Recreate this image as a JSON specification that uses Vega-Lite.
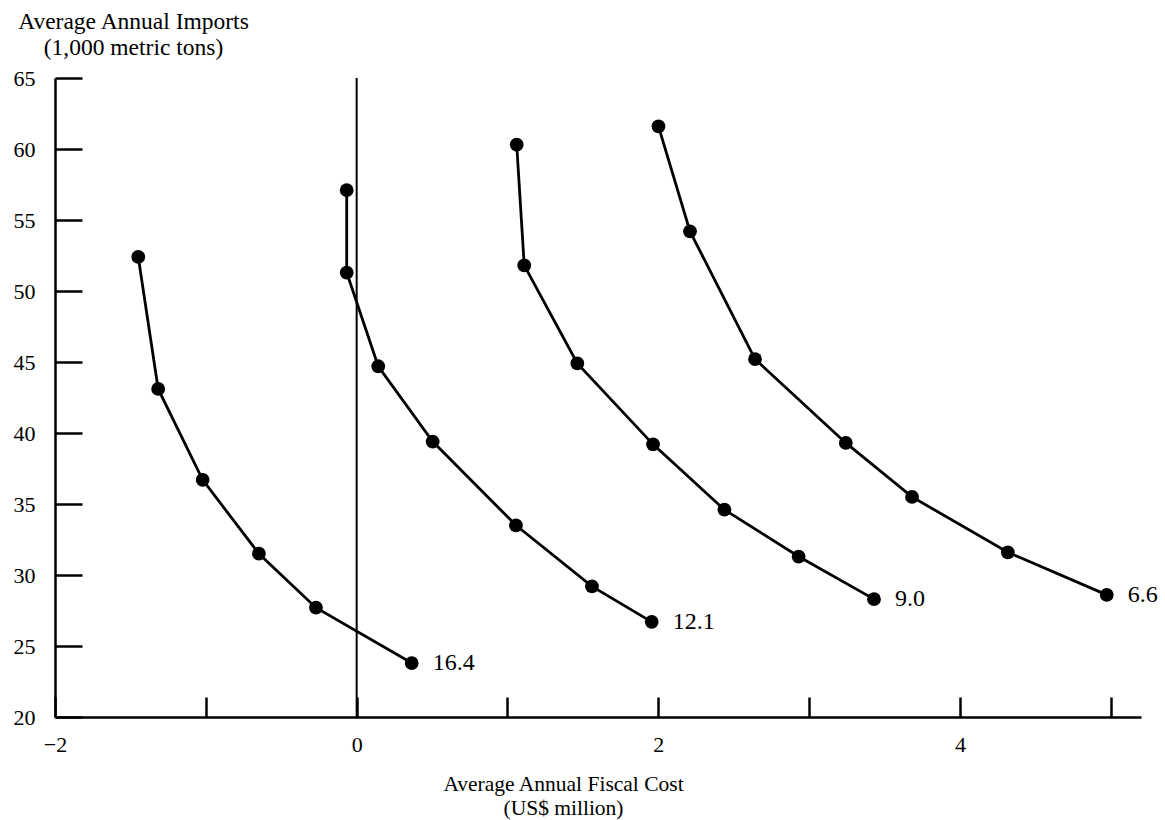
{
  "$schema": "https://vega.github.io/schema/vega-lite/v6.json",
  "width": 1086,
  "height": 639,
  "autosize": "none",
  "padding": {"left": 55, "top": 78, "right": 24, "bottom": 103},
  "background": "white",
  "config": {
    "view": {"stroke": null},
    "font": "Liberation Serif",
    "axis": {
      "domainColor": "black",
      "domainWidth": 2.5,
      "tickColor": "black",
      "tickWidth": 2.5,
      "grid": false,
      "labelFont": "Liberation Serif",
      "labelFontSize": 22,
      "labelColor": "black",
      "titleFont": "Liberation Serif",
      "titleFontSize": 22,
      "titleFontWeight": "normal",
      "titleColor": "black"
    }
  },
  "datasets": {
    "curves": [
      {"curve": "16.4", "i": 1, "cost": -1.448, "imports": 52.4, "label": null},
      {"curve": "16.4", "i": 2, "cost": -1.316, "imports": 43.1, "label": null},
      {"curve": "16.4", "i": 3, "cost": -1.021, "imports": 36.7, "label": null},
      {"curve": "16.4", "i": 4, "cost": -0.648, "imports": 31.5, "label": null},
      {"curve": "16.4", "i": 5, "cost": -0.270, "imports": 27.7, "label": null},
      {"curve": "16.4", "i": 6, "cost": 0.365, "imports": 23.8, "label": "16.4"},
      {"curve": "12.1", "i": 1, "cost": -0.066, "imports": 57.1, "label": null},
      {"curve": "12.1", "i": 2, "cost": -0.066, "imports": 51.3, "label": null},
      {"curve": "12.1", "i": 3, "cost": 0.143, "imports": 44.7, "label": null},
      {"curve": "12.1", "i": 4, "cost": 0.504, "imports": 39.4, "label": null},
      {"curve": "12.1", "i": 5, "cost": 1.056, "imports": 33.5, "label": null},
      {"curve": "12.1", "i": 6, "cost": 1.560, "imports": 29.2, "label": null},
      {"curve": "12.1", "i": 7, "cost": 1.956, "imports": 26.7, "label": "12.1"},
      {"curve": "9.0", "i": 1, "cost": 1.061, "imports": 60.3, "label": null},
      {"curve": "9.0", "i": 2, "cost": 1.111, "imports": 51.8, "label": null},
      {"curve": "9.0", "i": 3, "cost": 1.463, "imports": 44.9, "label": null},
      {"curve": "9.0", "i": 4, "cost": 1.965, "imports": 39.2, "label": null},
      {"curve": "9.0", "i": 5, "cost": 2.438, "imports": 34.6, "label": null},
      {"curve": "9.0", "i": 6, "cost": 2.930, "imports": 31.3, "label": null},
      {"curve": "9.0", "i": 7, "cost": 3.430, "imports": 28.3, "label": "9.0"},
      {"curve": "6.6", "i": 1, "cost": 2.001, "imports": 61.6, "label": null},
      {"curve": "6.6", "i": 2, "cost": 2.210, "imports": 54.2, "label": null},
      {"curve": "6.6", "i": 3, "cost": 2.641, "imports": 45.2, "label": null},
      {"curve": "6.6", "i": 4, "cost": 3.243, "imports": 39.3, "label": null},
      {"curve": "6.6", "i": 5, "cost": 3.682, "imports": 35.5, "label": null},
      {"curve": "6.6", "i": 6, "cost": 4.317, "imports": 31.6, "label": null},
      {"curve": "6.6", "i": 7, "cost": 4.973, "imports": 28.6, "label": "6.6"}
    ],
    "zeroline": [
      {"cost": 0, "imports": 20, "imports2": 65}
    ]
  },
  "encoding": {
    "x": {
      "field": "cost",
      "type": "quantitative",
      "scale": {"domain": [-2, 5.2], "nice": false, "zero": false},
      "axis": {
        "values": [-2, -1, 0, 1, 2, 3, 4, 5],
        "labelExpr": "datum.value % 2 == 0 ? datum.label : ''",
        "tickSize": -20,
        "labelPadding": 37,
        "labelFlush": false,
        "labelOverlap": false,
        "title": ["Average Annual Fiscal Cost", "(US$ million)"],
        "titleFontSize": 21.5,
        "titleX": 508,
        "titleY": 73,
        "titleAlign": "center",
        "titleBaseline": "alphabetic",
        "titleLineHeight": 24
      }
    },
    "y": {
      "field": "imports",
      "type": "quantitative",
      "scale": {"domain": [20, 65], "nice": false, "zero": false},
      "axis": {
        "values": [20, 25, 30, 35, 40, 45, 50, 55, 60, 65],
        "tickSize": -27,
        "labelPadding": 47,
        "labelBaseline": "middle",
        "labelFlush": false,
        "labelOverlap": false,
        "title": ["Average Annual Imports", "(1,000 metric tons)"],
        "titleFontSize": 23.5,
        "titleAngle": 0,
        "titleX": 78,
        "titleY": -50,
        "titleAlign": "center",
        "titleBaseline": "alphabetic",
        "titleLineHeight": 26
      }
    }
  },
  "layer": [
    {
      "data": {"name": "zeroline"},
      "mark": {"type": "rule", "color": "black", "strokeWidth": 2},
      "encoding": {"y2": {"field": "imports2"}}
    },
    {
      "data": {"name": "curves"},
      "mark": {"type": "line", "color": "black", "strokeWidth": 2.8},
      "encoding": {
        "detail": {"field": "curve"},
        "order": {"field": "i", "type": "quantitative"}
      }
    },
    {
      "data": {"name": "curves"},
      "mark": {"type": "point", "filled": true, "color": "black", "opacity": 1, "size": 190}
    },
    {
      "data": {"name": "curves"},
      "transform": [{"filter": "datum.label != null"}],
      "mark": {"type": "text", "align": "left", "baseline": "middle", "dx": 21, "fontSize": 24, "color": "black", "font": "Liberation Serif"},
      "encoding": {"text": {"field": "label"}}
    }
  ]
}
